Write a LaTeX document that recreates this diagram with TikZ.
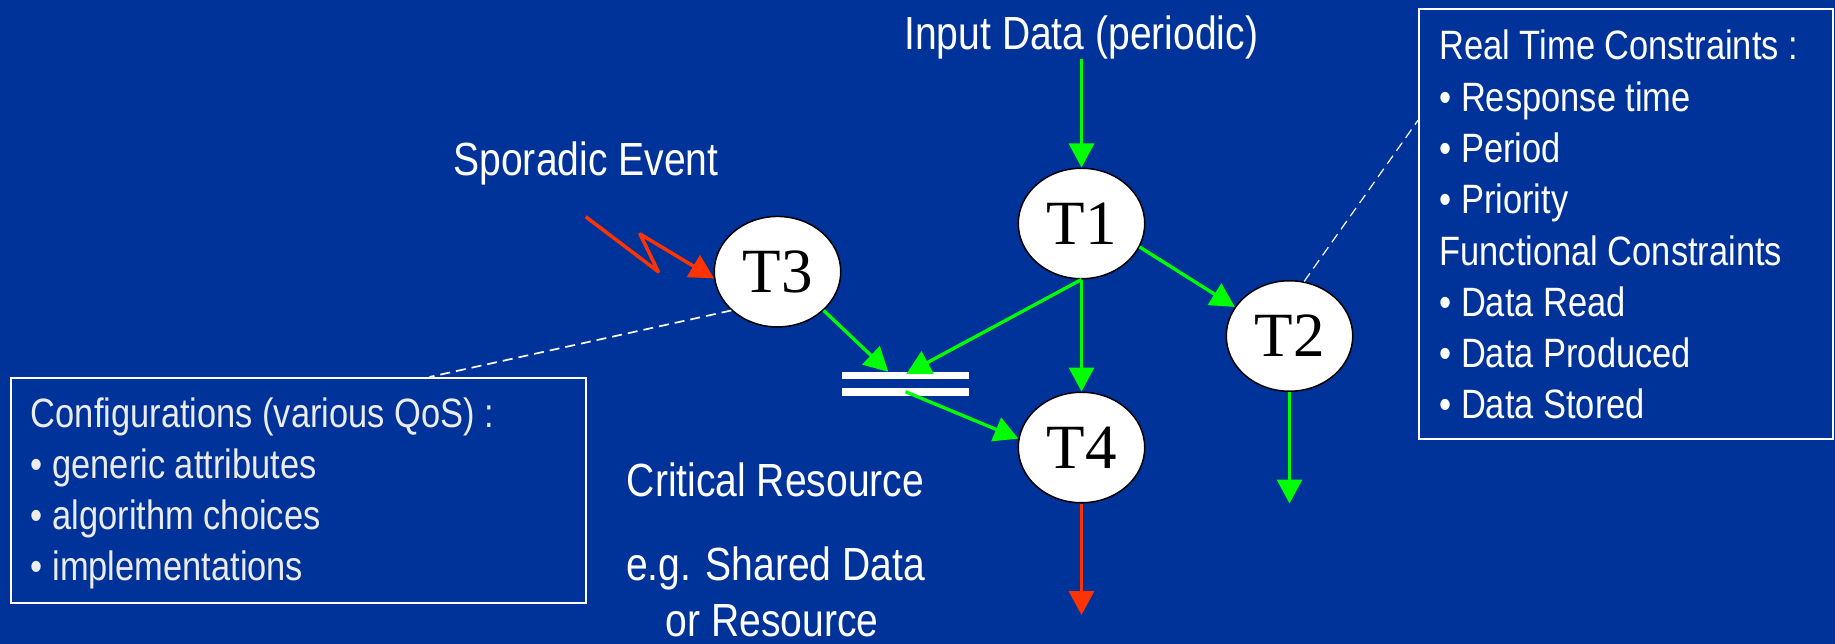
\documentclass[tikz,border=0pt]{standalone}
\usepackage{fontspec}
\usetikzlibrary{arrows.meta,shapes.geometric,calc}
\newfontfamily\labfont[FakeStretch=0.84]{Liberation Sans}
\newfontfamily\taskfont{Liberation Serif}
\definecolor{bgblue}{RGB}{0,51,153}
\definecolor{arrgreen}{RGB}{0,255,0}
\definecolor{arrred}{RGB}{255,51,0}
\definecolor{boxtext}{RGB}{236,236,236}
\begin{document}
\begin{tikzpicture}[x=1pt,y=-1pt,
  task/.style={ellipse, draw=black, fill=white, line width=1.5pt,
    minimum width=126.5pt, minimum height=110.5pt, inner sep=0pt,
    font=\taskfont\fontsize{63}{63}\selectfont},
  flow/.style={draw=arrgreen, line width=3.3pt, -{Triangle[length=24pt,width=25pt]}},
  alarm/.style={draw=arrred, line width=3.5pt, line join=round, -{Triangle[length=24pt,width=25pt]}},
  leader/.style={draw=white, dash pattern=on 10pt off 6pt},
  infobox/.style={draw=white, line width=2pt, inner sep=0pt, anchor=north west},
  biglabel/.style={font=\labfont\fontsize{46.5}{56}\selectfont, text=white, inner sep=0pt, anchor=base},
  rline/.style={font=\labfont\fontsize{41}{51}\selectfont, text=white, inner sep=0pt, anchor=base west},
  lline/.style={font=\labfont\fontsize{41}{51}\selectfont, text=boxtext, inner sep=0pt, anchor=base west}
]
\useasboundingbox (0,0) rectangle (1835,644);
\fill[bgblue] (0,0) rectangle (1835,644);

% info boxes
\node[infobox, minimum width=414pt, minimum height=430pt] (rbox) at (1418,8) {};
\node[infobox, minimum width=575pt, minimum height=225pt] (lbox) at (10,377) {};

\node[rline] (r1) at (1439.3,60) {Real Time Constraints :};
\node[rline] (r2) at (1439.3,111.7) {• Response time};
\node[rline] (r3) at (1439.3,162.7) {• Period};
\node[rline] (r4) at (1439.3,213.3) {• Priority};
\node[rline] (r5) at (1439.3,265.7) {Functional Constraints};
\node[rline] (r6) at (1439.3,316.7) {• Data Read};
\node[rline] (r7) at (1439.3,367.3) {• Data Produced};
\node[rline] (r8) at (1439.3,418.3) {• Data Stored};

\node[lline] (l1) at (30.7,427.7) {Configurations (various QoS) :};
\node[lline] (l2) at (30.7,478.3) {• generic attributes};
\node[lline] (l3) at (30.7,529.3) {• algorithm choices};
\node[lline] (l4) at (30.7,580.7) {• implementations};

% labels
\node[biglabel] (inp) at (1081.3,49.3) {Input Data (periodic)};
\node[biglabel, anchor=base west] (spo) at (453.3,175.7) {Sporadic Event};
\node[biglabel] (crit) at (775.5,496.7) {Critical Resource};
\node[biglabel] (eg1) at (775.5,580) {e.g. Shared Data};
\node[biglabel] (eg2) at (772,636) {or Resource};

% tasks
\node[task] (T1) at (1081.5,223.5) {T1};
\node[task] (T2) at (1289.5,336) {T2};
\node[task] (T3) at (777.5,271.7) {T3};
\node[task] (T4) at (1081.5,447.5) {T4};

% critical resource symbol
\node[minimum width=127pt, minimum height=23.5pt, inner sep=0pt] (res) at (905.5,383.75) {};
\fill[white] (res.north west) rectangle ($(res.north east)+(0,7.5)$);
\fill[white] ($(res.south west)+(0,-7.5)$) rectangle (res.south east);

% free ends
\coordinate (evt) at (585.7,216.7);
\coordinate (t2out) at (1289.5,503.5);
\coordinate (t4out) at (1081.5,615);

% leaders
\draw[leader, line width=1.7pt] (T3.220) -- ($(lbox.north west)!0.727!(lbox.north east)$);
\draw[leader, line width=1.2pt] (T2.75) -- ($(rbox.north west)!0.26!(rbox.south west)$);

% flows
\draw[flow] (inp.south -| T1.north) -- (T1.north);
\draw[flow] (T1.-22) -- (T2.152);
\draw[flow] (T1.south) -- (T4.north);
\draw[flow] (T1.south) -- ($(res.north)+(1,2)$);
\draw[flow] (T3.-40) -- ($(res.north west)+(46.5,0)$);
\draw[flow] ($(res.south)+(0,-4)$) -- (T4.172);
\draw[flow] (T2.south) -- (t2out);
\draw[alarm] (T4.south) -- (t4out);
\draw[alarm] (evt) -- ++(72.6,55) -- ++(-18.3,-37.7) -- (T3.186);
\end{tikzpicture}
\end{document}
